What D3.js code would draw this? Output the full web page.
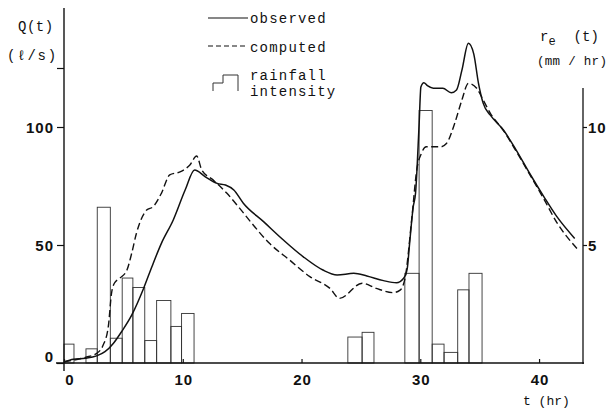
<!DOCTYPE html>
<html>
<head>
<meta charset="utf-8">
<script src="https://cdn.jsdelivr.net/npm/d3@7"></script>
<style>
  body { margin: 0; background: #fff; }
  svg { display: block; }
</style>
</head>
<body>
<svg id="chart" width="610" height="413"></svg>
<script>
// ---------- data ----------
const obsT = [0, 0.8, 1.8, 2.75, 3.45, 4.15, 4.85, 5.7, 6.7, 7.4, 8.2, 9.2, 10.2, 11.0, 11.9, 12.9, 13.6, 14.3, 15.1, 16.8, 18.5, 20.15, 21.8, 23.0, 24.4, 25.5, 26.9, 28.0, 28.6, 28.9, 29.1, 29.4, 29.6, 29.9, 30.05, 30.3, 30.6, 31.1, 31.9, 32.6, 33.05, 33.5, 34.05, 34.5, 34.9, 35.3, 35.9, 37.0, 38.1, 39.2, 40.4, 41.5, 43.0];
const obsQ = [0.5, 1.6, 2, 3, 4.8, 8.3, 13.3, 20.3, 31.6, 40.8, 50.7, 60.6, 73.3, 81.8, 78.9, 76.1, 75.4, 73.3, 67.7, 59.9, 52, 45, 39.4, 37.3, 38, 36.9, 34.9, 34, 35.9, 40, 50.7, 66, 72, 101, 117, 118.8, 117.5, 116.4, 116.4, 114.5, 115.7, 124, 135.5, 131, 118.5, 110, 105, 98.7, 90, 80.4, 70.5, 62, 52.8];

const compT = [0, 1.8, 2.75, 3.3, 3.73, 4.0, 4.24, 4.7, 5.3, 5.7, 6.1, 6.96, 7.5, 8.2, 8.9, 9.77, 10.6, 11.17, 11.6, 12.57, 13.7, 14.8, 15.7, 17.3, 19.0, 20.7, 22.4, 23.2, 25.1, 26.3, 27.7, 28.3, 28.7, 29.3, 29.7, 30.1, 30.5, 31.7, 32.2, 32.9, 33.5, 34.05, 34.75, 35.3, 35.9, 37.0, 38.1, 39.2, 40.4, 41.5, 43.3];
const compQ = [0.5, 2.4, 4.1, 7.6, 15.4, 29.5, 33.8, 35.9, 39.4, 46.5, 55, 64.8, 66.2, 71.9, 79.7, 81, 83.9, 87.7, 81.8, 77.5, 72, 65.5, 59.9, 50.7, 43.6, 36.6, 31.6, 27.4, 33.8, 31.6, 29.8, 30.9, 35.5, 62, 81.8, 88.9, 91.6, 91.6, 93, 101.6, 111.4, 118.5, 116.4, 111.4, 105.8, 98.5, 89.5, 80, 69.5, 59.5, 47.9];

const rainStart = [0, 1.85, 2.8, 3.9, 4.9, 5.8, 6.8, 7.8, 9.0, 9.9, 23.9, 25.1, 28.7, 29.9, 31.0, 32.0, 33.15, 34.1];
const rainEnd   = [0.84, 2.8, 3.9, 4.9, 5.8, 6.8, 7.8, 9.0, 9.9, 10.95, 25.1, 26.1, 29.9, 31.0, 32.0, 33.15, 34.1, 35.2];
const rainValue = [0.8, 0.6, 6.6, 1.05, 3.6, 3.2, 0.95, 2.65, 1.55, 2.1, 1.1, 1.3, 3.8, 10.7, 0.8, 0.45, 3.1, 3.8];

const xTicks = [0, 10, 20, 30, 40];
const qTicks = [0, 50, 100];
const qMinorTicks = [125];
const rTicks = [5, 10];

// ---------- drawing ----------
const svg = d3.select("#chart");
const x = d3.scaleLinear().domain([0, 43.7]).range([64, 583]);
const yQ = d3.scaleLinear().domain([0, 150]).range([363, 9]);
const yR = d3.scaleLinear().domain([0, 15]).range([363, 9]);

const ink = "#111";
const tickFont = "'Liberation Sans', Arial, sans-serif";
const monoFont = "'Liberation Mono', 'DejaVu Sans Mono', monospace";

// rainfall bars
svg.append("g").selectAll("rect")
  .data(rainValue)
  .join("rect")
  .attr("x", (d, i) => x(rainStart[i]))
  .attr("width", (d, i) => x(rainEnd[i]) - x(rainStart[i]))
  .attr("y", d => yR(d))
  .attr("height", d => yR(0) - yR(d))
  .attr("fill", "none")
  .attr("stroke", "#333")
  .attr("stroke-width", 0.9);

// curves
const obsLine = d3.line().x((d, i) => x(obsT[i])).y(d => yQ(d)).curve(d3.curveMonotoneX);
const compLine = d3.line().x((d, i) => x(compT[i])).y(d => yQ(d)).curve(d3.curveMonotoneX);

svg.append("path").attr("d", compLine(compQ))
  .attr("fill", "none").attr("stroke", ink).attr("stroke-width", 1.4)
  .attr("stroke-dasharray", "7,3.5");
svg.append("path").attr("d", obsLine(obsQ))
  .attr("fill", "none").attr("stroke", ink).attr("stroke-width", 1.5);

// left axis
const gL = svg.append("g").attr("transform", "translate(64,0)")
  .call(d3.axisLeft(yQ).tickValues(qTicks.concat(qMinorTicks)).tickSize(7).tickFormat(""));
gL.select(".domain").remove();
gL.selectAll("line").attr("stroke", ink).attr("stroke-width", 1.2);
svg.append("line").attr("x1", 64).attr("x2", 64).attr("y1", 8).attr("y2", 371)
  .attr("stroke", ink).attr("stroke-width", 1.4);
svg.append("g").selectAll("text").data(qTicks).join("text")
  .attr("x", 54).attr("y", d => yQ(d) + (d === 0 ? -1 : 5.5))
  .attr("text-anchor", "end")
  .attr("font-family", tickFont).attr("font-weight", "bold").attr("font-size", 15)
  .attr("letter-spacing", 1)
  .attr("fill", ink)
  .text(d => d);

// right axis
const gR = svg.append("g").attr("transform", "translate(583,0)")
  .call(d3.axisRight(yR).tickValues(rTicks).tickSize(4).tickFormat(""));
gR.select(".domain").remove();
gR.selectAll("line").attr("stroke", ink).attr("stroke-width", 1.2);
svg.append("line").attr("x1", 583).attr("x2", 583).attr("y1", yR(11.65)).attr("y2", 364)
  .attr("stroke", ink).attr("stroke-width", 1.3);
svg.append("g").selectAll("text").data(rTicks).join("text")
  .attr("x", 588).attr("y", d => yR(d) + 5.5)
  .attr("font-family", tickFont).attr("font-weight", "bold").attr("font-size", 15)
  .attr("letter-spacing", 1)
  .attr("fill", ink)
  .text(d => d);

// bottom axis
const gB = svg.append("g").attr("transform", "translate(0,363)")
  .call(d3.axisBottom(x).tickValues(xTicks).tickSizeInner(-4).tickSizeOuter(0).tickFormat(""));
gB.select(".domain").remove();
gB.selectAll("line").attr("stroke", ink).attr("stroke-width", 1.2);
svg.append("line").attr("x1", 56).attr("x2", 584).attr("y1", 363).attr("y2", 363)
  .attr("stroke", ink).attr("stroke-width", 1.4);
svg.append("g").selectAll("text").data(xTicks).join("text")
  .attr("x", d => x(d) + (d === 0 ? 6 : 1))
  .attr("y", 385)
  .attr("text-anchor", "middle")
  .attr("font-family", tickFont).attr("font-weight", "bold").attr("font-size", 15)
  .attr("letter-spacing", 1)
  .attr("fill", ink)
  .text(d => d);

// axis titles
const title = (t, xx, yy, size, anchor) => svg.append("text")
  .attr("x", xx).attr("y", yy)
  .attr("font-family", monoFont).attr("font-size", size)
  .attr("text-anchor", anchor || "start")
  .attr("fill", ink).text(t);

title("Q(t)", 18, 31, 14).attr("letter-spacing", 0.5);
title("(ℓ/s)", 7, 60, 14).attr("letter-spacing", 1.8);
title("t (hr)", 523, 405, 13);

const re = svg.append("text").attr("x", 540).attr("y", 41)
  .attr("font-family", monoFont).attr("font-size", 14).attr("fill", ink);
re.append("tspan").text("r");
re.append("tspan").attr("dy", 4).attr("font-size", 12).text("e");
re.append("tspan").attr("dy", -4).attr("dx", 18).text("(t)");
title("(mm / hr)", 537, 65, 12.5).attr("letter-spacing", 0.3);

// legend
const lg = svg.append("g");
lg.append("line").attr("x1", 208).attr("x2", 248).attr("y1", 18).attr("y2", 18)
  .attr("stroke", ink).attr("stroke-width", 1.2);
lg.append("line").attr("x1", 208).attr("x2", 248).attr("y1", 46).attr("y2", 46)
  .attr("stroke", ink).attr("stroke-width", 1.2).attr("stroke-dasharray", "5,3");
lg.append("path").attr("d", "M213,91V83H223V75H238V91")
  .attr("fill", "none").attr("stroke", "#333").attr("stroke-width", 1);
const legText = (t, yy) => lg.append("text").attr("x", 250).attr("y", yy)
  .attr("font-family", monoFont).attr("font-size", 14).attr("letter-spacing", 1.2)
  .attr("fill", ink).text(t);
legText("observed", 23);
legText("computed", 52);
legText("rainfall", 80);
legText("intensity", 96);
</script>
</body>
</html>
